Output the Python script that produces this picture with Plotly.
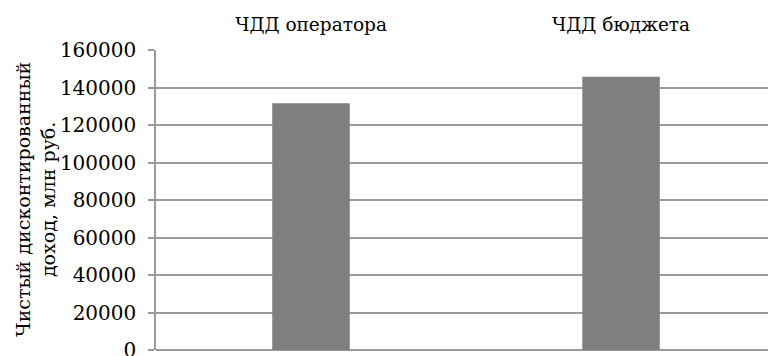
import plotly.graph_objects as go

# Discounted net income, million rubles
categories = ["ЧДД оператора", "ЧДД бюджета"]
values = [131600, 145800]
y_ticks = [0, 20000, 40000, 60000, 80000, 100000, 120000, 140000, 160000]
y_title = "Чистый дисконтированный<br>доход, млн руб."

FONT = "DejaVu Serif"
GRID = "#9a9a9a"

W, H = 768, 356
L, R, T, B = 156, 0, 50, 6

fig = go.Figure(
    go.Bar(
        x=categories,
        y=values,
        width=0.25,
        marker=dict(color="#7f7f7f", line=dict(width=0)),
    )
)

fig.update_layout(
    width=W,
    height=H,
    margin=dict(l=L, r=R, t=T, b=B, autoexpand=False),
    paper_bgcolor="white",
    plot_bgcolor="white",
    showlegend=False,
    font=dict(family=FONT, size=18, color="#000000"),
)

fig.update_xaxes(
    side="top",
    range=[-0.5, 1.474],
    showgrid=False,
    showline=False,
    ticks="",
    automargin=False,
    ticklabelstandoff=14,
    tickfont=dict(family=FONT, size=18.5),
)

fig.update_yaxes(
    range=[0, 160000],
    tickvals=y_ticks,
    ticktext=[str(v) for v in y_ticks],
    showgrid=True,
    gridcolor=GRID,
    gridwidth=1.5,
    zeroline=True,
    zerolinecolor=GRID,
    zerolinewidth=1.5,
    showline=True,
    linecolor=GRID,
    linewidth=1.5,
    ticks="outside",
    ticklen=6,
    tickcolor=GRID,
    tickwidth=1.5,
    automargin=False,
    ticklabelstandoff=8,
    ticklabeloverflow="allow",
    tickfont=dict(family=FONT, size=20),
)

fig.add_annotation(
    text=y_title,
    xref="paper",
    yref="paper",
    x=(35 - L) / (W - L - R),
    y=0.5,
    xanchor="center",
    yanchor="middle",
    textangle=-90,
    showarrow=False,
    font=dict(family=FONT, size=19),
)

fig.write_html("out.html")
